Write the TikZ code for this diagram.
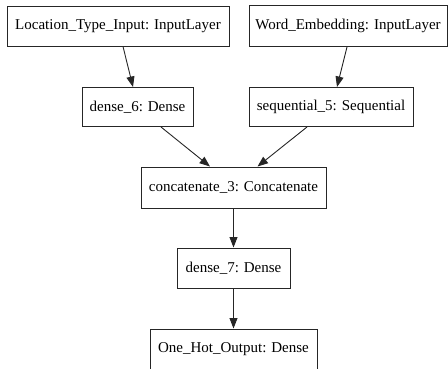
\documentclass[tikz,border=0pt]{standalone}
\usepackage{fontspec}
\setmainfont{Liberation Serif}
\usetikzlibrary{arrows.meta}
\begin{document}
\begin{tikzpicture}[x=1pt,y=-1pt,
  layer/.style={draw=black!85, line width=1pt, fill=white, rectangle, inner sep=0pt,
    font=\fontsize{15}{17}\selectfont},
  conn/.style={draw=black!85, line width=0.9pt, -{Triangle[length=10.5pt,width=8pt]}}]
\useasboundingbox (0,0) rectangle (448,368);
\node[layer, minimum width=222pt, minimum height=40pt] (lti) at (118,26) {Location\_Type\_Input: InputLayer};
\node[layer, minimum width=198pt, minimum height=41pt] (we) at (348,26) {Word\_Embedding: InputLayer};
\node[layer, minimum width=111pt, minimum height=39pt] (d6) at (137.5,107) {dense\_6: Dense};
\node[layer, minimum width=164pt, minimum height=39pt] (s5) at (331,107) {sequential\_5: Sequential};
\node[layer, minimum width=185pt, minimum height=41pt] (cc) at (233.5,187.5) {concatenate\_3: Concatenate};
\node[layer, minimum width=113pt, minimum height=40pt] (d7) at (233.5,268) {dense\_7: Dense};
\node[layer, minimum width=167pt, minimum height=40pt] (oh) at (233.5,349) {One\_Hot\_Output: Dense};
\draw[conn] ([xshift=5pt]lti.south) -- ([xshift=-4.5pt]d6.north);
\draw[conn] ([xshift=-1pt]we.south) -- ([xshift=6pt]s5.north);
\draw[conn] ([xshift=23.5pt]d6.south) -- ([xshift=-23.5pt]cc.north);
\draw[conn] ([xshift=-24pt]s5.south) -- ([xshift=24pt]cc.north);
\draw[conn] (cc.south) -- (d7.north);
\draw[conn] (d7.south) -- (oh.north);
\end{tikzpicture}
\end{document}
